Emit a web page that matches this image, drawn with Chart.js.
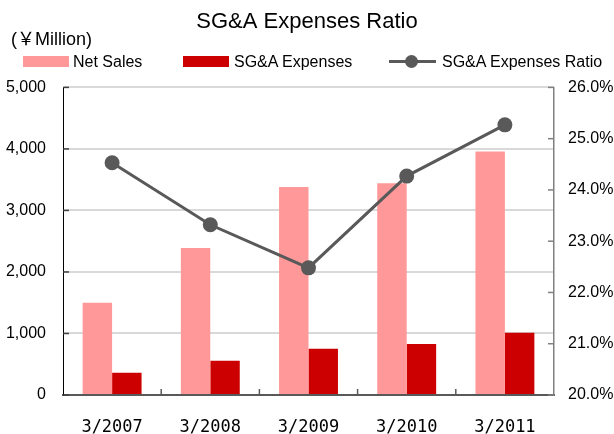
<!DOCTYPE html>
<html>
<head>
<meta charset="utf-8">
<script src="https://cdn.jsdelivr.net/npm/chart.js@4"></script>
<style>
  body { margin: 0; background: #fff; }
  #wrap { position: relative; width: 614px; height: 434px; }
  .txt { position: absolute; font-family: 'Liberation Sans', Arial, 'Noto Sans CJK JP', sans-serif; color: #000; white-space: nowrap; }
  .box { position: absolute; width: 46px; height: 11px; }
</style>
</head>
<body>
<div id="wrap">
  <canvas id="chart1" width="614" height="434"></canvas>
  <div class="txt" style="left:11px; top:24px; font-size:18px;">(￥Million)</div>
  <div class="box" style="left:23px; top:56px; background:#ff9999;"></div>
  <div class="txt" style="left:73px; top:53px; font-size:16px;">Net Sales</div>
  <div class="box" style="left:183px; top:56px; background:#cc0000;"></div>
  <div class="txt" style="left:234px; top:53px; font-size:16px;">SG&amp;A Expenses</div>
  <div style="position:absolute; left:389px; top:60px; width:47px; height:3px; background:#595959;"></div>
  <div style="position:absolute; left:405px; top:55px; width:13px; height:13px; border-radius:50%; background:#595959;"></div>
  <div class="txt" style="left:442px; top:53px; font-size:16px;">SG&amp;A Expenses Ratio</div>
</div>
<script>
  const categories = ['3/2007', '3/2008', '3/2009', '3/2010', '3/2011'];
  const netSales = [1500, 2390, 3380, 3440, 3960];
  const sgaExpenses = [360, 555, 750, 830, 1010];
  const sgaRatio = [24.53, 23.32, 22.48, 24.27, 25.27];

  // small tick marks pointing into the plot area
  const innerTicks = {
    id: 'innerTicks',
    afterDraw(chart) {
      const c = chart.ctx;
      const a = chart.chartArea;
      const y = chart.scales.y, y1 = chart.scales.y1, x = chart.scales.x;
      c.save();
      c.lineWidth = 1.5;
      c.strokeStyle = '#404040';
      y.ticks.forEach(t => {
        const p = y.getPixelForValue(t.value);
        c.beginPath(); c.moveTo(a.left, p); c.lineTo(a.left + 6, p); c.stroke();
      });
      c.strokeStyle = '#808080';
      y1.ticks.forEach(t => {
        const p = y1.getPixelForValue(t.value);
        c.beginPath(); c.moveTo(a.right, p); c.lineTo(a.right - 6, p); c.stroke();
      });
      c.strokeStyle = '#595959';
      const half = (x.getPixelForValue(1) - x.getPixelForValue(0)) / 2;
      for (let i = 1; i < categories.length; i++) {
        const p = x.getPixelForValue(i) - half;
        c.beginPath(); c.moveTo(p, a.bottom); c.lineTo(p, a.bottom - 6); c.stroke();
      }
      c.restore();
    }
  };

  const ctx = document.getElementById('chart1').getContext('2d');

  const chart1 = new Chart(ctx, {
    data: {
      labels: categories,
      datasets: [{
        type: 'line',
        label: 'SG&A Expenses Ratio',
        data: sgaRatio,
        yAxisID: 'y1',
        borderColor: '#595959',
        backgroundColor: '#595959',
        borderWidth: 3,
        pointRadius: 7.5,
        pointBorderWidth: 0,
        order: 0
      }, {
        type: 'bar',
        label: 'Net Sales',
        data: netSales,
        yAxisID: 'y',
        backgroundColor: '#ff9999',
        categoryPercentage: 0.6,
        barPercentage: 1.0,
        order: 1
      }, {
        type: 'bar',
        label: 'SG&A Expenses',
        data: sgaExpenses,
        yAxisID: 'y',
        backgroundColor: '#cc0000',
        categoryPercentage: 0.6,
        barPercentage: 1.0,
        order: 1
      }]
    },
    options: {
      responsive: false,
      animation: false,
      layout: { padding: 0 },
      plugins: {
        legend: { display: false },
        tooltip: { enabled: false },
        title: {
          display: true,
          text: 'SG&A Expenses Ratio',
          color: '#000',
          font: { family: "'Liberation Sans', Arial, sans-serif", size: 22, weight: 'normal' },
          padding: { top: 9, bottom: 52 }
        }
      },
      scales: {
        x: {
          grid: { display: false, drawTicks: false },
          border: { color: '#595959', width: 2 },
          ticks: {
            color: '#000',
            padding: 22,
            font: { family: "'DejaVu Sans Mono', monospace", size: 17 }
          },
          afterFit(s) { s.height = 39; }
        },
        y: {
          position: 'left',
          min: 0,
          max: 5000,
          grid: { color: '#d9d9d9', lineWidth: 2, drawTicks: false },
          border: { color: '#000', width: 1 },
          ticks: {
            stepSize: 1000,
            color: '#000',
            padding: 17,
            font: { family: "'Liberation Sans', Arial, sans-serif", size: 16 },
            callback: v => v.toLocaleString('en-US')
          },
          afterFit(s) { s.width = 63; }
        },
        y1: {
          position: 'right',
          min: 20,
          max: 26,
          grid: { drawOnChartArea: false, drawTicks: false },
          border: { color: '#808080', width: 1.5 },
          ticks: {
            stepSize: 1,
            color: '#000',
            padding: 14,
            font: { family: "'Liberation Sans', Arial, sans-serif", size: 16 },
            callback: v => v.toFixed(1) + '%'
          },
          afterFit(s) { s.width = 60; }
        }
      }
    },
    plugins: [innerTicks]
  });
</script>
</body>
</html>
